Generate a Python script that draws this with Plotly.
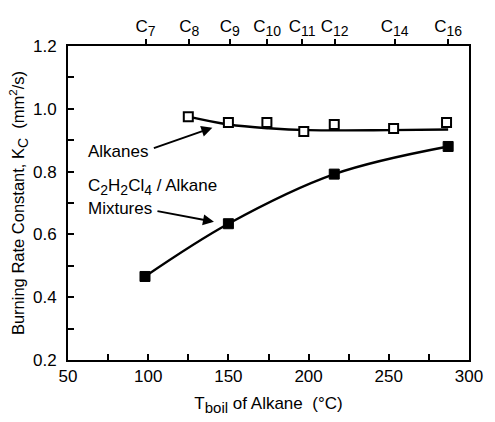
import plotly.graph_objects as go

# Data
alk_T = [125, 150, 174, 197, 216, 253, 286]
alk_K = [0.975, 0.956, 0.956, 0.928, 0.950, 0.937, 0.956]
mix_T = [98, 150, 216, 287]
mix_K = [0.466, 0.634, 0.792, 0.880]
alk_fit_T = [125, 150, 175, 200, 250, 287]
alk_fit_K = [0.975, 0.950, 0.938, 0.932, 0.932, 0.934]

carbon_T = [98.4, 125.6, 150.8, 174.1, 196, 216.2, 253.6, 287]
carbon_n = ["7", "8", "9", "10", "11", "12", "14", "16"]

x_ticks = [50, 75, 100, 125, 150, 175, 200, 225, 250, 275, 300]
x_text = ["50", "", "100", "", "150", "", "200", "", "250", "", "300"]
y_ticks = [0.2, 0.3, 0.4, 0.5, 0.6, 0.7, 0.8, 0.9, 1.0, 1.1, 1.2]
y_text = ["0.2", "", "0.4", "", "0.6", "", "0.8", "", "1.0", "", "1.2"]

FONT = "Liberation Sans, Arial, sans-serif"


def sub(s, px=14):
    return f"<sub><span style='font-size:{px}px'>{s}</span></sub>"


carbon_lbl = ["C" + sub(n, 14) for n in carbon_n]

fig = go.Figure()
fig.add_trace(go.Scatter(x=alk_fit_T, y=alk_fit_K, mode="lines", line_shape="spline",
                         line=dict(color="black", width=2.4), showlegend=False))
fig.add_trace(go.Scatter(x=mix_T, y=mix_K, mode="lines", line_shape="spline",
                         line=dict(color="black", width=2.4), showlegend=False))
fig.add_trace(go.Scatter(x=alk_T, y=alk_K, mode="markers",
                         marker=dict(symbol="square", size=9, color="white",
                                     line=dict(color="black", width=2)), showlegend=False))
fig.add_trace(go.Scatter(x=mix_T, y=mix_K, mode="markers",
                         marker=dict(symbol="square", size=10, color="black",
                                     line=dict(color="black", width=1)), showlegend=False))
# invisible trace for the top (carbon number) axis
fig.add_trace(go.Scatter(x=[50, 300], y=[0.2, 0.2], xaxis="x2", mode="markers",
                         marker=dict(opacity=0), showlegend=False, hoverinfo="skip"))

fig.update_layout(
    width=495, height=422,
    margin=dict(l=68, r=15, t=46, b=60),
    plot_bgcolor="white", paper_bgcolor="white",
    font=dict(family=FONT, size=17, color="black"),
    xaxis=dict(range=[50, 300], tickvals=x_ticks, ticktext=x_text, ticks="inside",
               ticklen=6, tickwidth=1.5, tickcolor="black", showline=True, linewidth=2,
               linecolor="black", mirror=True, showgrid=False, zeroline=False,
               tickfont=dict(size=17, color="black"),
               title=dict(text="T" + sub("boil", 15) + " of Alkane  (°C)", standoff=12,
                          font=dict(size=17, color="black"))),
    xaxis2=dict(range=[50, 300], overlaying="x", side="top", tickvals=carbon_T,
                ticktext=carbon_lbl, ticks="outside", ticklen=6, tickwidth=1.5,
                tickcolor="black", showgrid=False, zeroline=False, showline=False,
                tickfont=dict(size=17, color="black")),
    yaxis=dict(range=[0.2, 1.2], tickvals=y_ticks, ticktext=y_text, ticks="inside",
               ticklen=6, tickwidth=1.5, tickcolor="black", showline=True, linewidth=2,
               linecolor="black", mirror=True, showgrid=False, zeroline=False,
               ticklabelstandoff=6, tickfont=dict(size=17, color="black"),
               title=dict(text="Burning Rate Constant, K" + sub("C", 14)
                          + "  (mm<sup>2</sup>/s)",
                          standoff=4, font=dict(size=16.5, color="black"))),
)

# Annotations
fig.add_annotation(x=140, y=0.94, xref="x", yref="y", ax=-60, ay=21,
                   text="", showarrow=True, arrowhead=2, arrowsize=1.1,
                   arrowwidth=2, arrowcolor="black", standoff=0)
fig.add_annotation(x=61, y=0.865, xref="x", yref="y", text="Alkanes",
                   showarrow=False, xanchor="left", font=dict(size=17, color="black"))
fig.add_annotation(x=141, y=0.64, xref="x", yref="y", ax=-58, ay=-11,
                   text="", showarrow=True, arrowhead=2, arrowsize=1.1,
                   arrowwidth=2, arrowcolor="black", standoff=0)
fig.add_annotation(x=61, y=0.751, xref="x", yref="y",
                   text="C" + sub("2", 14) + "H" + sub("2", 14) + "Cl" + sub("4", 14) + " / Alkane",
                   showarrow=False, xanchor="left", font=dict(size=17, color="black"))
fig.add_annotation(x=61, y=0.681, xref="x", yref="y", text="Mixtures",
                   showarrow=False, xanchor="left", font=dict(size=17, color="black"))

fig.write_html("out.html")
